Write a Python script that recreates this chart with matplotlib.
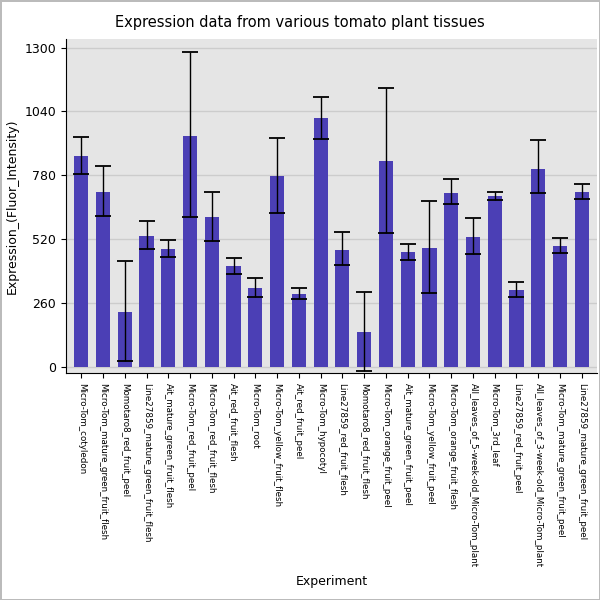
import matplotlib
matplotlib.use("Agg")
import matplotlib.pyplot as plt
import numpy as np

labels = ["Micro-Tom_cotyledon","Micro-Tom_mature_green_fruit_flesh","Momotaro8_red_fruit_peel",
"Line27859_mature_green_fruit_flesh","Ait_mature_green_fruit_flesh","Micro-Tom_red_fruit_peel",
"Micro-Tom_red_fruit_flesh","Ait_red_fruit_flesh","Micro-Tom_root","Micro-Tom_yellow_fruit_flesh",
"Ait_red_fruit_peel","Micro-Tom_hypocotyl","Line27859_red_fruit_flesh","Momotaro8_red_fruit_flesh",
"Micro-Tom_orange_fruit_peel","Ait_mature_green_fruit_peel","Micro-Tom_yellow_fruit_peel",
"Micro-Tom_orange_fruit_flesh","All_leaves_of_5-week-old_Micro-Tom_plant","Micro-Tom_3rd_leaf",
"Line27859_red_fruit_peel","All_leaves_of_3-week-old_Micro-Tom_plant","Micro-Tom_mature_green_fruit_peel",
"Line27859_mature_green_fruit_peel"]
values = [857,711,223,532,479,942,609,410,321,776,297,1012,475,142,837,467,483,707,528,695,313,808,491,711]
err_hi = [938,817,430,593,516,1284,711,443,362,934,321,1097,548,305,1137,500,674,764,605,711,345,922,524,743]
err_lo = [784,613,24,479,447,609,512,378,284,626,276,930,414,-16,544,435,300,662,459,678,284,707,463,682]

fig = plt.figure(figsize=(6,6), dpi=100, edgecolor="#bbbbbb", linewidth=1)
ax = fig.add_axes([0.11, 0.378, 0.885, 0.557])
x = np.arange(len(labels))
v = np.array(values); hi = np.array(err_hi); lo = np.array(err_lo)
ax.set_facecolor("#e5e5e5")
ax.grid(True, axis="y", color="#cccccc", linewidth=1)
ax.set_axisbelow(True)
ax.bar(x, v, width=0.65, color="#4b3fb5", zorder=2)
ax.errorbar(x, v, yerr=[v-lo, hi-v], fmt="none", ecolor="black", elinewidth=1, capsize=6, capthick=1.3, zorder=3)
ax.set_xlim(-0.7, len(labels)-0.3)
ax.set_ylim(-25, 1335)
ax.set_yticks([0,260,520,780,1040,1300])
ax.set_xticks(x)
ax.set_xticklabels(labels, rotation=-90, fontsize=6.3)
ax.tick_params(axis="y", labelsize=9)
for s in ["top","right"]:
    ax.spines[s].set_visible(False)
fig.text(0.553, 0.025, "Experiment", fontsize=9, ha="center")
ax.set_ylabel("Expression_(Fluor_Intensity)", fontsize=9)
fig.suptitle("Expression data from various tomato plant tissues", fontsize=10.5, y=0.975)
fig.savefig("out.png", dpi=100, edgecolor=fig.get_edgecolor())
